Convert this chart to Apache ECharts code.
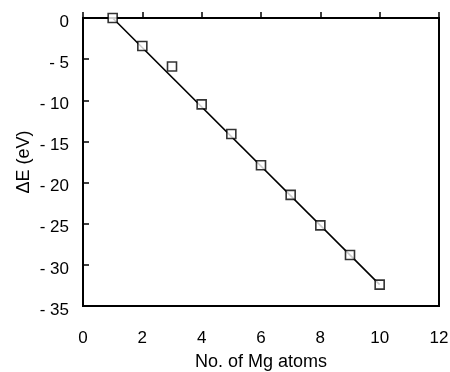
<!DOCTYPE html>
<html>
<head>
<meta charset="utf-8">
<script src="https://cdn.jsdelivr.net/npm/echarts@6/dist/echarts.min.js"></script>
<style>html,body{margin:0;padding:0;background:#fff}#c{width:450px;height:372px}</style>
</head>
<body>
<div id="c"></div>
<script>
const atoms = [1, 2, 3, 4, 5, 6, 7, 8, 9, 10];
const deltaE = [0, -3.4, -5.9, -10.5, -14.1, -17.9, -21.5, -25.2, -28.8, -32.4];
const fitX = [1, 10];
const fitY = [0, -32.4];
const xTicks = [0, 2, 4, 6, 8, 10, 12];
const yTicks = [0, -5, -10, -15, -20, -25, -30, -35];

const font = 'Liberation Sans, Arial, sans-serif';
const chart = echarts.init(document.getElementById('c'), null, {renderer: 'canvas'});
chart.setOption({
  animation: false,
  backgroundColor: '#fff',
  grid: {left: 83, top: 18, right: 11, bottom: 66, show: true, borderColor: '#000', borderWidth: 2,
    backgroundColor: 'transparent', containLabel: false, outerBoundsMode: 'none'},
  xAxis: {
    type: 'value', min: xTicks[0], max: xTicks[xTicks.length - 1], interval: 2,
    name: 'No. of Mg atoms', nameLocation: 'middle', nameGap: 47,
    nameTextStyle: {fontFamily: font, fontSize: 18, color: '#000'},
    axisLine: {show: true, lineStyle: {color: '#000', width: 2}},
    axisTick: {show: true, inside: true, length: 6, lineStyle: {color: '#000', width: 1.5}},
    axisLabel: {fontFamily: font, fontSize: 17, color: '#000', margin: 24},
    splitLine: {show: false}
  },
  yAxis: {
    type: 'value', min: yTicks[yTicks.length - 1], max: yTicks[0], interval: 5,
    name: '\u0394E (eV)', nameLocation: 'middle', nameGap: 50, nameRotate: 90, nameMoveOverlap: false,
    nameTextStyle: {fontFamily: font, fontSize: 18, color: '#000'},
    axisLine: {show: true, lineStyle: {color: '#000', width: 2}},
    axisTick: {show: true, inside: true, length: 6, lineStyle: {color: '#000', width: 1.5}},
    axisLabel: {margin: 14,
      formatter: v => '{a|' + (v < 0 ? '- ' + Math.abs(v) : String(v)) + '}',
      rich: {a: {fontFamily: font, fontSize: 17, color: '#000', padding: [8, 0, 0, 0]}}},
    splitLine: {show: false}
  },
  series: [
    {
      type: 'line', data: fitX.map((x, i) => [x, fitY[i]]),
      symbol: 'none', lineStyle: {color: '#000', width: 1.6}, z: 2
    },
    {
      type: 'scatter', data: atoms.map((x, i) => [x, deltaE[i]]),
      symbol: 'rect', symbolSize: 9,
      itemStyle: {color: '#fff', borderColor: '#000', borderWidth: 1.6}, z: 3
    }
  ]
});
</script>
</body>
</html>
